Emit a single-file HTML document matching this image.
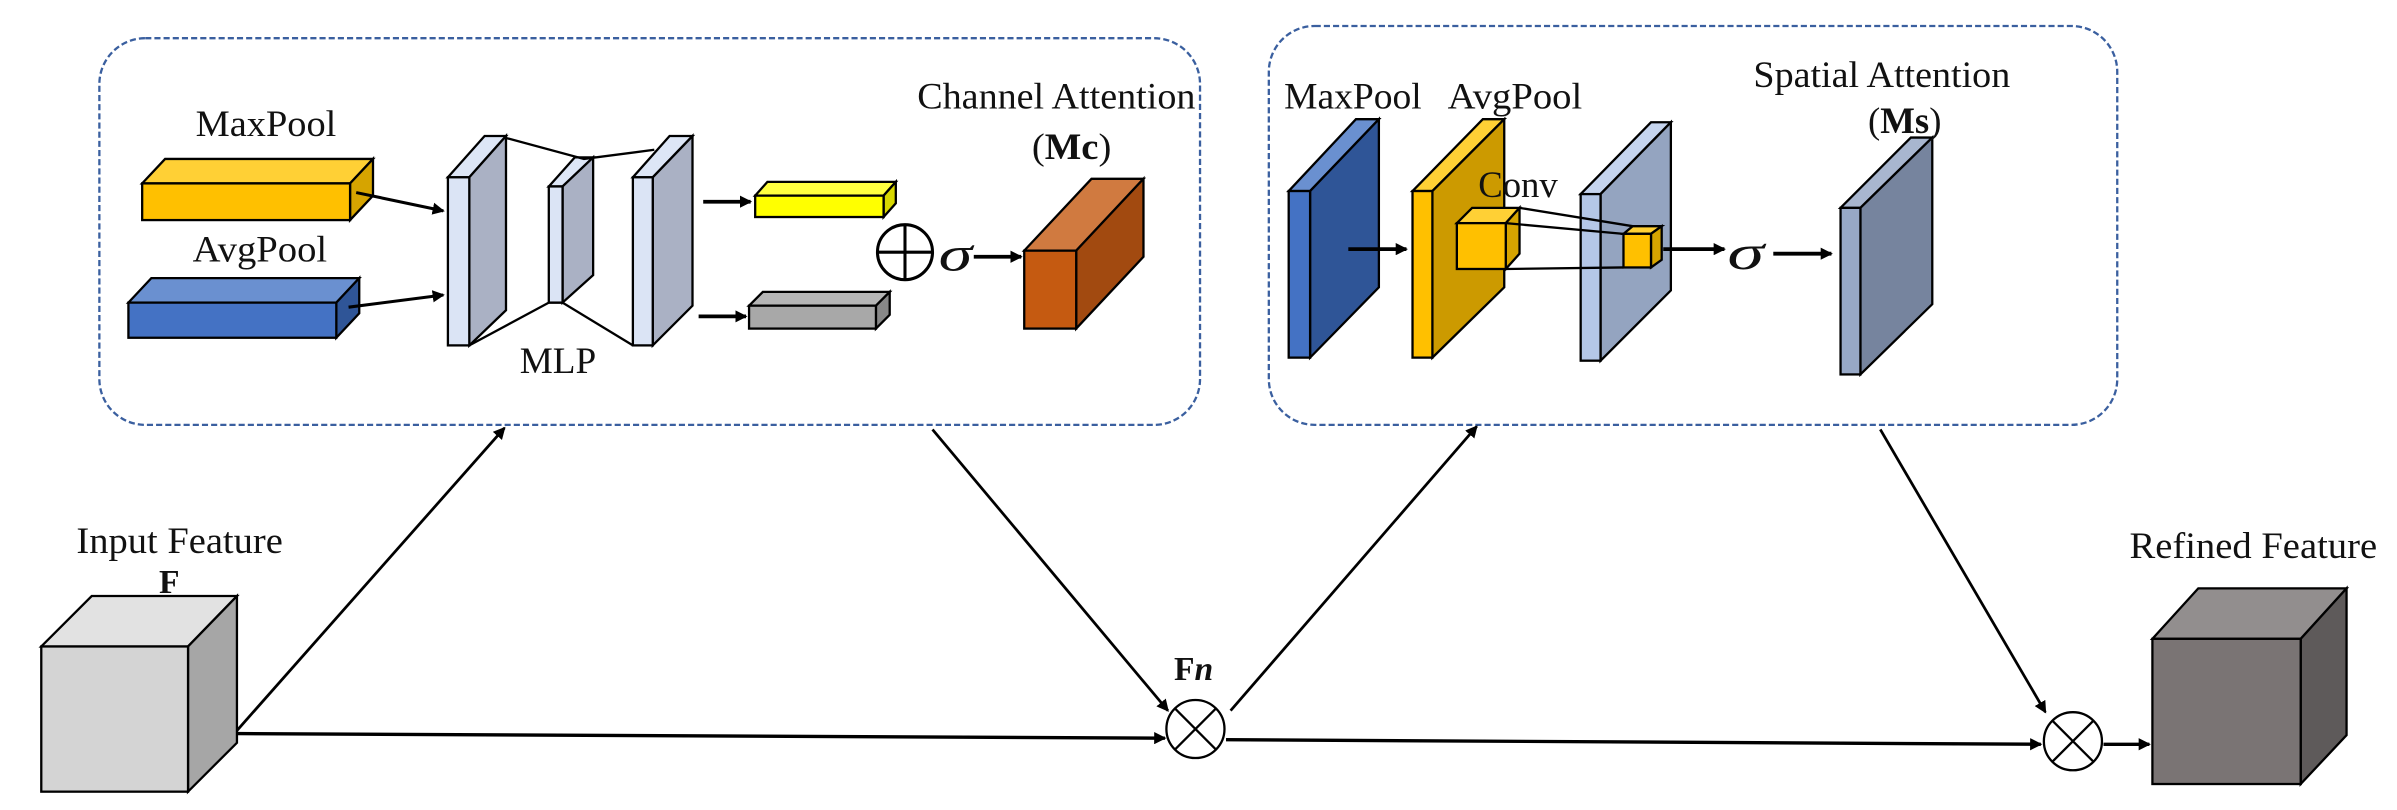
<!DOCTYPE html>
<html><head><meta charset="utf-8"><style>
html,body{margin:0;padding:0;background:#fff;width:2397px;height:810px;overflow:hidden}
svg{display:block}
text{font-family:"Liberation Serif",serif;fill:#111}
</style></head><body>
<svg width="2397" height="810" viewBox="0 0 1568 530" preserveAspectRatio="none" xmlns="http://www.w3.org/2000/svg">
<defs>
<marker id="ah" markerWidth="8" markerHeight="8" refX="7" refY="4" orient="auto" markerUnits="userSpaceOnUse"><path d="M0,0 L8,4 L0,8 Z" fill="#000"/></marker>
</defs>
<g stroke="#000" stroke-width="1.5" stroke-linejoin="miter">
<rect x="65" y="25" width="720" height="253" rx="30" fill="none" stroke="#3a5f9f" stroke-dasharray="4,2"/>
<rect x="830" y="17" width="555" height="261" rx="30" fill="none" stroke="#3a5f9f" stroke-dasharray="4,2"/>

<polygon points="93,120 108,104 244,104 229,120" fill="#ffd035"/>
<polygon points="229,120 244,104 244,128 229,144" fill="#d6a400"/>
<rect x="93" y="120" width="136" height="24" fill="#ffc000"/>
<polygon points="84,198 99,182 235,182 220,198" fill="#6a90d0"/>
<polygon points="220,198 235,182 235,205 220,221" fill="#2f5597"/>
<rect x="84" y="198" width="136" height="23" fill="#4472c4"/>

<polygon points="293,116 317,89 331,89 307,116" fill="#dde6f6"/>
<polygon points="307,116 331,89 331,203 307,226" fill="#aab1c4"/>
<rect x="293" y="116" width="14" height="110" fill="#dbe4f5"/>
<polygon points="359,122 376,103 388,103 368,122" fill="#dde6f6"/>
<polygon points="368,122 388,103 388,180 368,198" fill="#aab1c4"/>
<rect x="359" y="122" width="9" height="76" fill="#dbe4f5"/>
<polygon points="414,116 438,89 453,89 427,116" fill="#dde6f6"/>
<polygon points="427,116 453,89 453,200 427,226" fill="#aab1c4"/>
<rect x="414" y="116" width="13" height="110" fill="#dbe4f5"/>
<polyline points="330,90 382,104 428,98" fill="none"/>
<polyline points="307,226 359,198 368,198 414,226" fill="none"/>

<line x1="233" y1="126" x2="290" y2="138" marker-end="url(#ah)" stroke-width="2"/>
<line x1="228" y1="201" x2="290" y2="193" marker-end="url(#ah)" stroke-width="2"/>
<line x1="460" y1="132" x2="491" y2="132" marker-end="url(#ah)" stroke-width="2.5"/>
<line x1="457" y1="207" x2="488" y2="207" marker-end="url(#ah)" stroke-width="2.5"/>

<polygon points="494,128 502,119 586,119 578,128" fill="#ffff40"/>
<polygon points="578,128 586,119 586,133 578,142" fill="#d8d800"/>
<rect x="494" y="128" width="84" height="14" fill="#ffff00"/>
<polygon points="490,200 499,191 582,191 573,200" fill="#b5b5b5"/>
<polygon points="573,200 582,191 582,206 573,215" fill="#888"/>
<rect x="490" y="200" width="83" height="15" fill="#a8a8a8"/>

<circle cx="592" cy="165" r="18" fill="#fff" stroke-width="2"/>
<line x1="574" y1="165" x2="610" y2="165" stroke-width="2"/>
<line x1="592" y1="147" x2="592" y2="183" stroke-width="2"/>
<line x1="637" y1="168" x2="668" y2="168" marker-end="url(#ah)" stroke-width="2.5"/>

<polygon points="670,164 714,117 748,117 704,164" fill="#d07a40"/>
<polygon points="704,164 748,117 748,168 704,215" fill="#a24a10"/>
<rect x="670" y="164" width="34" height="51" fill="#c55a11"/>

<polygon points="843,125 887,78 902,78 857,125" fill="#6a90d0"/>
<polygon points="857,125 902,78 902,188 857,234" fill="#2f5597"/>
<rect x="843" y="125" width="14" height="109" fill="#4472c4"/>
<polygon points="924,125 970,78 984,78 937,125" fill="#ffd035"/>
<polygon points="937,125 984,78 984,188 937,234" fill="#cc9a00"/>
<rect x="924" y="125" width="13" height="109" fill="#ffc000"/>
<line x1="882" y1="163" x2="920" y2="163" marker-end="url(#ah)" stroke-width="2.5"/>
<polygon points="1034,127 1080,80 1093,80 1047,127" fill="#c5d4ee"/>
<polygon points="1047,127 1093,80 1093,190 1047,236" fill="#94a4c0"/>
<rect x="1034" y="127" width="13" height="109" fill="#b4c7e7"/>
<polygon points="953,146 963,136 994,136 985,146" fill="#ffd035"/>
<polygon points="985,146 994,136 994,166 985,176" fill="#d6a400"/>
<rect x="953" y="146" width="32" height="30" fill="#ffc000"/>
<polygon points="1062,153 1068,148 1087,148 1080,153" fill="#ffd035"/>
<polygon points="1080,153 1087,148 1087,170 1080,175" fill="#d6a400"/>
<rect x="1062" y="153" width="18" height="22" fill="#ffc000"/>
<line x1="994" y1="136" x2="1068" y2="148"/>
<line x1="985" y1="146" x2="1062" y2="153"/>
<line x1="985" y1="176" x2="1062" y2="175"/>
<line x1="1088" y1="163" x2="1128" y2="163" marker-end="url(#ah)" stroke-width="2.5"/>
<line x1="1160" y1="166" x2="1198" y2="166" marker-end="url(#ah)" stroke-width="2.5"/>
<polygon points="1204,136 1250,90 1264,90 1217,136" fill="#a8b6cf"/>
<polygon points="1217,136 1264,90 1264,199 1217,245" fill="#76849e"/>
<rect x="1204" y="136" width="13" height="109" fill="#97a8c6"/>

<polygon points="27,423 60,390 155,390 123,423" fill="#e2e2e2"/>
<polygon points="123,423 155,390 155,486 123,518" fill="#a6a6a6"/>
<rect x="27" y="423" width="96" height="95" fill="#d4d4d4"/>
<polygon points="1408,418 1438,385 1535,385 1505,418" fill="#928e8e"/>
<polygon points="1505,418 1535,385 1535,481 1505,513" fill="#5e5a5a"/>
<rect x="1408" y="418" width="97" height="95" fill="#7a7474"/>

<line x1="155" y1="478" x2="330" y2="280" marker-end="url(#ah)" stroke-width="1.8"/>
<line x1="610" y1="281" x2="764" y2="465" marker-end="url(#ah)" stroke-width="1.8"/>
<line x1="805" y1="465" x2="966" y2="279" marker-end="url(#ah)" stroke-width="1.8"/>
<line x1="1230" y1="281" x2="1338" y2="466" marker-end="url(#ah)" stroke-width="1.8"/>
<line x1="155" y1="480" x2="762" y2="483" marker-end="url(#ah)" stroke-width="2.2"/>
<line x1="802" y1="484" x2="1335" y2="487" marker-end="url(#ah)" stroke-width="2.2"/>
<line x1="1376" y1="487" x2="1406" y2="487" marker-end="url(#ah)" stroke-width="2.2"/>
<circle cx="782" cy="477" r="19" fill="#fff"/>
<line x1="768.5" y1="463.5" x2="795.5" y2="490.5"/>
<line x1="795.5" y1="463.5" x2="768.5" y2="490.5"/>
<circle cx="1356" cy="485" r="19" fill="#fff"/>
<line x1="1342.5" y1="471.5" x2="1369.5" y2="498.5"/>
<line x1="1369.5" y1="471.5" x2="1342.5" y2="498.5"/>
</g>

<text x="128" y="89" font-size="24" textLength="92" lengthAdjust="spacingAndGlyphs">MaxPool</text>
<text x="126" y="171" font-size="24" textLength="88" lengthAdjust="spacingAndGlyphs">AvgPool</text>
<text x="340" y="244" font-size="24" textLength="50" lengthAdjust="spacingAndGlyphs">MLP</text>
<text x="600" y="71" font-size="24" textLength="182" lengthAdjust="spacingAndGlyphs">Channel Attention</text>
<text x="675" y="104" font-size="24" textLength="52" lengthAdjust="spacingAndGlyphs">(<tspan font-weight="bold">Mc</tspan>)</text>
<text x="614" y="177" font-size="32" font-style="italic" textLength="22" lengthAdjust="spacingAndGlyphs">σ</text>
<text x="840" y="71" font-size="24" textLength="90" lengthAdjust="spacingAndGlyphs">MaxPool</text>
<text x="947" y="71" font-size="24" textLength="88" lengthAdjust="spacingAndGlyphs">AvgPool</text>
<text x="967" y="129" font-size="24" textLength="52" lengthAdjust="spacingAndGlyphs">Conv</text>
<text x="1130" y="176" font-size="32" font-style="italic" textLength="24" lengthAdjust="spacingAndGlyphs">σ</text>
<text x="1147" y="57" font-size="24" textLength="168" lengthAdjust="spacingAndGlyphs">Spatial Attention</text>
<text x="1222" y="87" font-size="24" textLength="48" lengthAdjust="spacingAndGlyphs">(<tspan font-weight="bold">Ms</tspan>)</text>
<text x="50" y="362" font-size="24" textLength="135" lengthAdjust="spacingAndGlyphs">Input Feature</text>
<text x="104" y="388" font-size="22" font-weight="bold">F</text>
<text x="1393" y="365" font-size="24" textLength="162" lengthAdjust="spacingAndGlyphs">Refined Feature</text>
<text x="768" y="445" font-size="22" font-weight="bold">F<tspan font-style="italic">n</tspan></text>
</svg>
</body></html>
